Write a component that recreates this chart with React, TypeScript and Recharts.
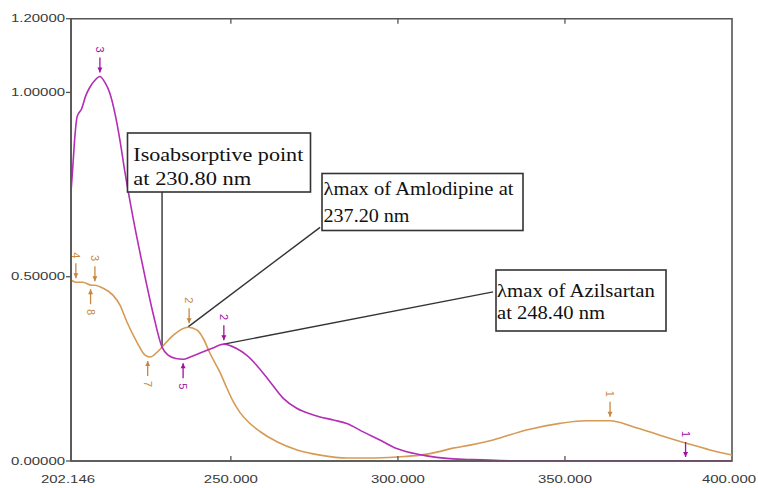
import React from "react";
import { ComposedChart, Line, Scatter, XAxis, YAxis, ReferenceLine, ReferenceArea } from "recharts";

const AZIL_COLOR = "#b42db4";
const AMLO_COLOR = "#d69a55";
const AZIL_MARK = "#a3109f";
const AMLO_MARK = "#c7873d";
const FRAME = "#555";

const X_MIN = 202.146;
const X_MAX = 400;
const xTicks = [202.146, 250, 300, 350, 400];
const topTicks = [250, 300, 350];
const yTicks = [0, 0.5, 1.0, 1.2];

// Azilsartan (magenta) spectrum
const azilWave = [202.15, 202.7, 203.3, 204.0, 205.3, 206.6, 207.8, 209.3, 210.8, 212.3, 213.8, 215.3, 216.8, 218.3, 220.7, 223.7, 226.7, 229.4, 231.2, 233.5, 235.7, 238.0, 240.8, 244.4, 247.9, 251.7, 254.7, 257.7, 261.7, 265.7, 269.7, 274.7, 280.7, 284.7, 289.6, 294.6, 299.6, 304.6, 308.6, 314.6, 321.6, 330.5, 340, 360, 380, 400];
const azilAbs = [0.73, 0.8, 0.88, 0.935, 0.955, 0.992, 1.014, 1.033, 1.043, 1.027, 0.997, 0.943, 0.87, 0.783, 0.661, 0.526, 0.401, 0.309, 0.287, 0.278, 0.276, 0.283, 0.293, 0.306, 0.317, 0.305, 0.287, 0.26, 0.215, 0.17, 0.143, 0.125, 0.111, 0.102, 0.079, 0.057, 0.034, 0.021, 0.014, 0.007, 0.004, 0.001, 0, 0, 0, 0];

// Amlodipine (orange) spectrum
const amloWave = [202.15, 203.6, 205.7, 208.3, 209.3, 211.7, 214.7, 216.8, 218.9, 221.9, 224.3, 225.8, 227.9, 229.4, 232.7, 237.2, 239.9, 241.7, 243.7, 246.7, 248.8, 250.6, 252.7, 255.0, 258.7, 263.8, 269.8, 276.7, 284.8, 291.6, 299.7, 306.6, 311.7, 316.5, 321.6, 328.5, 338.5, 348.5, 356.5, 363.5, 370.4, 378.4, 386.4, 393.4, 400];
const amloAbs = [0.491, 0.485, 0.485, 0.477, 0.477, 0.469, 0.45, 0.423, 0.377, 0.322, 0.287, 0.282, 0.295, 0.309, 0.341, 0.363, 0.355, 0.333, 0.293, 0.241, 0.198, 0.163, 0.132, 0.108, 0.08, 0.052, 0.03, 0.016, 0.008, 0.008, 0.011, 0.016, 0.024, 0.035, 0.043, 0.057, 0.084, 0.102, 0.109, 0.109, 0.093, 0.07, 0.048, 0.03, 0.016];

// peak picks
const azilPickWave = [210.8, 235.7, 247.9, 386.1];
const azilPickAbs = [1.043, 0.276, 0.317, 0.0];
const azilPickLabel = ["3", "5", "2", "1"];
const azilPickSide = ["above", "below", "above", "above"];

const amloPickWave = [203.6, 209.3, 208.0, 225.1, 237.5, 363.5];
const amloPickAbs = [0.485, 0.477, 0.477, 0.282, 0.363, 0.109];
const amloPickLabel = ["4", "3", "8", "7", "2", "1"];
const amloPickSide = ["above", "above", "below", "below", "above", "above"];

const azilData = azilWave.map((x, i) => ({ x, y: azilAbs[i] }));
const amloData = amloWave.map((x, i) => ({ x, y: amloAbs[i] }));
const azilPicks = azilPickWave.map((x, i) => ({ x, y: azilPickAbs[i], label: azilPickLabel[i], side: azilPickSide[i] }));
const amloPicks = amloPickWave.map((x, i) => ({ x, y: amloPickAbs[i], label: amloPickLabel[i], side: amloPickSide[i] }));

const AXIS_FONT = "'Liberation Sans', Arial, sans-serif";
const SERIF = "'Liberation Serif', 'Times New Roman', serif";

function makeMarker(color: string) {
    return (props: any) => {
        const { cx, cy, payload } = props;
        const s = payload.side === "above" ? -1 : 1;
        const ly = cy + s * 27;
        return (
            <g>
                <line x1={cx} y1={cy + s * 4} x2={cx} y2={cy + s * 19} stroke={color} strokeWidth={1.3} />
                <path d={`M${cx - 2.5},${cy + s * 9} L${cx + 2.5},${cy + s * 9} L${cx},${cy + s * 4} Z`} fill={color} />
                <text
                    x={cx}
                    y={ly}
                    fill={color}
                    fontSize={11}
                    fontFamily={AXIS_FONT}
                    textAnchor="middle"
                    dominantBaseline="central"
                    transform={`rotate(90 ${cx} ${ly})`}
                >
                    {payload.label}
                </text>
            </g>
        );
    };
}

const YTick = (props: any) => {
    const { x, y, payload } = props;
    return (
        <text x={x - 54} y={y + 3.5} fontSize={11.5} fill="#3a3a3a" fontFamily={AXIS_FONT} textLength={54} lengthAdjust="spacingAndGlyphs">
            {Number(payload.value).toFixed(5)}
        </text>
    );
};

const XTick = (props: any) => {
    const { x, y, payload } = props;
    const v = Number(payload.value);
    const edge = v === X_MIN || v === X_MAX;
    const cx = edge ? x - 3 : x;
    const label = v === X_MIN ? "202.146" : v.toFixed(3);
    return (
        <g>
            {!edge && <line x1={x} y1={y} x2={x} y2={y - 5} stroke={FRAME} strokeWidth={1.3} />}
            <text x={cx - 27} y={y + 22} fontSize={11.5} fill="#3a3a3a" fontFamily={AXIS_FONT} textLength={54} lengthAdjust="spacingAndGlyphs">
                {label}
            </text>
        </g>
    );
};

function NoteBox({ x, y, w, h, lines }: { x: number; y: number; w: number; h: number; lines: { text: string; x: number; y: number; len: number }[] }) {
    return (
        <g>
            <rect x={x} y={y} width={w} height={h} fill="#fff" stroke="#333" strokeWidth={1.6} />
            {lines.map((l, i) => (
                <text key={i} x={l.x} y={l.y} fontSize={19} fontFamily={SERIF} fill="#111" textLength={l.len} lengthAdjust="spacingAndGlyphs">
                    {l.text}
                </text>
            ))}
        </g>
    );
}

export default function App() {
    return (
        <div style={{ position: "absolute", left: 0, top: 0, width: 758, height: 488, background: "#fff" }}>
            <ComposedChart width={758} height={488} margin={{ top: 18.7, right: 26, bottom: 0, left: 0 }}>
                <XAxis
                    dataKey="x"
                    type="number"
                    domain={[X_MIN, X_MAX]}
                    ticks={xTicks}
                    allowDataOverflow
                    height={27}
                    tickSize={0}
                    tickMargin={0}
                    tickLine={false}
                    axisLine={{ stroke: FRAME, strokeWidth: 1.6 }}
                    tick={<XTick />}
                    interval={0}
                />
                <YAxis
                    dataKey="y"
                    type="number"
                    domain={[0, 1.2]}
                    ticks={yTicks}
                    allowDataOverflow
                    width={71}
                    tickSize={5}
                    tickMargin={1}
                    tickLine={{ stroke: FRAME, strokeWidth: 1.3 }}
                    axisLine={{ stroke: FRAME, strokeWidth: 1.6 }}
                    tick={<YTick />}
                    interval={0}
                />
                <ReferenceArea x1={X_MIN} x2={X_MAX} y1={0} y2={1.2} fill="none" fillOpacity={0} stroke={FRAME} strokeWidth={1.6} />
                {topTicks.map((t) => (
                    <ReferenceLine key={t} segment={[{ x: t, y: 1.2 }, { x: t, y: 1.186 }]} stroke={FRAME} strokeWidth={1.3} />
                ))}
                <ReferenceLine segment={[{ x: 229.4, y: 0.309 }, { x: 229.4, y: 0.731 }]} stroke="#333" strokeWidth={1.4} />
                <ReferenceLine segment={[{ x: 237.2, y: 0.364 }, { x: 276.7, y: 0.634 }]} stroke="#333" strokeWidth={1.4} />
                <ReferenceLine segment={[{ x: 247.9, y: 0.317 }, { x: 328.5, y: 0.459 }]} stroke="#333" strokeWidth={1.4} />
                <Line data={amloData} dataKey="y" type="monotone" stroke={AMLO_COLOR} strokeWidth={1.6} dot={false} isAnimationActive={false} />
                <Line data={azilData} dataKey="y" type="monotone" stroke={AZIL_COLOR} strokeWidth={1.6} dot={false} isAnimationActive={false} />
                <Scatter data={amloPicks} dataKey="y" shape={makeMarker(AMLO_MARK)} isAnimationActive={false} />
                <Scatter data={azilPicks} dataKey="y" shape={makeMarker(AZIL_MARK)} isAnimationActive={false} />
            </ComposedChart>
            <svg width={758} height={488} style={{ position: "absolute", left: 0, top: 0, pointerEvents: "none" }}>
                <NoteBox
                    x={127.5}
                    y={133}
                    w={183}
                    h={59}
                    lines={[
                        { text: "Isoabsorptive point", x: 133.3, y: 160.5, len: 170 },
                        { text: "at 230.80 nm", x: 133.3, y: 185, len: 118 },
                    ]}
                />
                <NoteBox
                    x={322}
                    y={173.5}
                    w={201}
                    h={57}
                    lines={[
                        { text: "λmax of Amlodipine at", x: 323.5, y: 195, len: 190 },
                        { text: "237.20 nm", x: 323.5, y: 221.5, len: 86 },
                    ]}
                />
                <NoteBox
                    x={496}
                    y={270}
                    w={170}
                    h={61}
                    lines={[
                        { text: "λmax of Azilsartan", x: 497, y: 297.3, len: 158 },
                        { text: "at 248.40 nm", x: 497, y: 319.3, len: 108 },
                    ]}
                />
            </svg>
        </div>
    );
}
